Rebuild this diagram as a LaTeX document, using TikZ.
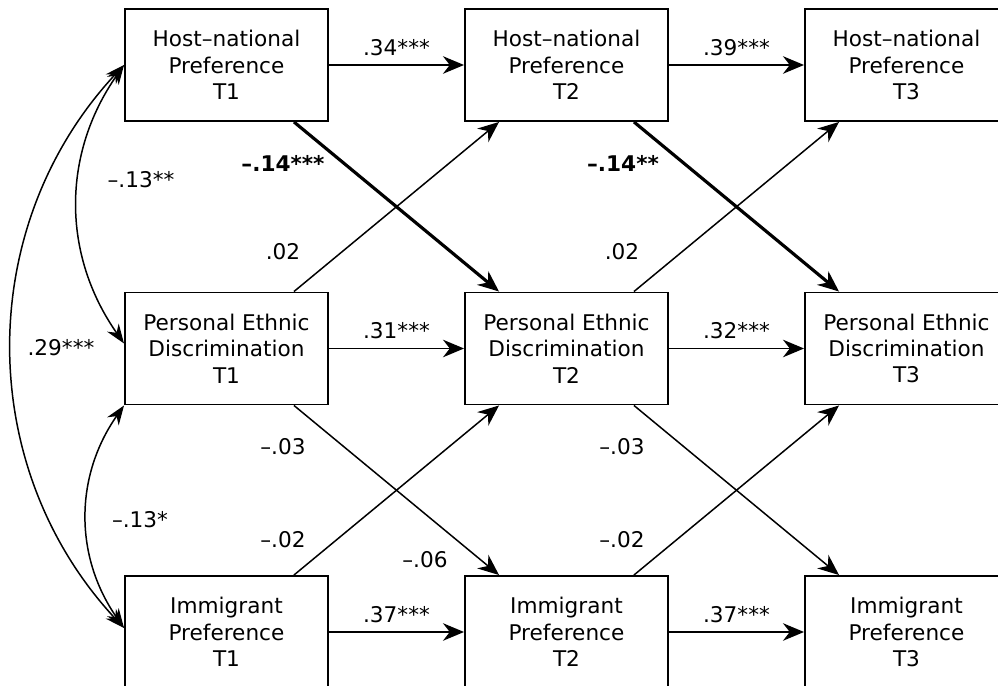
\documentclass[tikz,border=0pt]{standalone}
\usepackage{fontspec}
\setmainfont{DejaVu Sans}
\usetikzlibrary{arrows.meta,calc}

\tikzset{
  var/.style={draw, line width=1.1pt, align=center, minimum width=4.06cm, minimum height=2.24cm, inner sep=0pt, font=\fontsize{12.3}{15}\selectfont},
  reg/.style={-{Stealth[length=12pt, width=10pt]}, line width=0.85pt},
  strong/.style={reg, line width=1.8pt},
  cov/.style={{Stealth[length=11pt, width=8pt]}-{Stealth[length=11pt, width=8pt]}, line width=0.85pt},
  coef/.style={font=\fontsize{12.3}{15}\selectfont, inner sep=2pt},
}

\begin{document}
\begin{tikzpicture}
\useasboundingbox (0, 0) rectangle (19.96, -13.72);

\node[var] (h1) at (4.53, -1.30) {Host--national\\Preference\\T1};
\node[var] (h2) at (11.33, -1.30) {Host--national\\Preference\\T2};
\node[var] (h3) at (18.13, -1.30) {Host--national\\Preference\\T3};
\node[var] (p1) at (4.53, -6.97) {Personal Ethnic\\Discrimination\\T1};
\node[var] (p2) at (11.33, -6.97) {Personal Ethnic\\Discrimination\\T2};
\node[var] (p3) at (18.13, -6.97) {Personal Ethnic\\Discrimination\\T3};
\node[var] (i1) at (4.53, -12.64) {Immigrant\\Preference\\T1};
\node[var] (i2) at (11.33, -12.64) {Immigrant\\Preference\\T2};
\node[var] (i3) at (18.13, -12.64) {Immigrant\\Preference\\T3};

% stability paths
\draw[reg] (h1.east) -- (h2.west) node[coef, pos=0.5, above=3pt] {.34***};
\draw[reg] (h2.east) -- (h3.west) node[coef, pos=0.5, above=3pt] {.39***};
\draw[reg] (p1.east) -- (p2.west) node[coef, pos=0.5, above=3pt] {.31***};
\draw[reg] (p2.east) -- (p3.west) node[coef, pos=0.5, above=3pt] {.32***};
\draw[reg] (i1.east) -- (i2.west) node[coef, pos=0.5, above=3pt] {.37***};
\draw[reg] (i2.east) -- (i3.west) node[coef, pos=0.5, above=3pt] {.37***};

% cross-lagged paths
\draw[strong] ($(h1.south east)+(-0.7, 0)$) -- ($(p2.north west)+(0.7, 0)$);
\draw[strong] ($(h2.south east)+(-0.7, 0)$) -- ($(p3.north west)+(0.7, 0)$);
\draw[reg] ($(p1.north east)+(-0.7, 0)$) -- ($(h2.south west)+(0.7, 0)$);
\draw[reg] ($(p2.north east)+(-0.7, 0)$) -- ($(h3.south west)+(0.7, 0)$);
\draw[reg] ($(p1.south east)+(-0.7, 0)$) -- ($(i2.north west)+(0.7, 0)$);
\draw[reg] ($(p2.south east)+(-0.7, 0)$) -- ($(i3.north west)+(0.7, 0)$);
\draw[reg] ($(i1.north east)+(-0.7, 0)$) -- ($(p2.south west)+(0.7, 0)$);
\draw[reg] ($(i2.north east)+(-0.7, 0)$) -- ($(p3.south west)+(0.7, 0)$);

\node[coef, font=\fontsize{12.3}{15}\selectfont\bfseries] (b1) at (5.66, -3.26) {--.14***};
\node[coef, font=\fontsize{12.3}{15}\selectfont\bfseries] (b2) at (12.46, -3.26) {--.14**};
\node[coef] (c1) at (5.66, -5.04) {.02};
\node[coef] (c2) at (12.44, -5.04) {.02};
\node[coef] (c3) at (5.66, -8.94) {--.03};
\node[coef] (c4) at (12.44, -8.94) {--.03};
\node[coef] (c5) at (5.66, -10.80) {--.02};
\node[coef] (c6) at (12.44, -10.80) {--.02};
\node[coef] (c7) at (8.50, -11.20) {--.06};

% correlations at T1
\draw[cov] (h1.west) to[bend right=35] ($(p1.west)+(0, 0.1)$);
\draw[cov] (p1.south west) to[bend right=35] ($(i1.west)+(0, 0.08)$);
\draw[cov] (h1.west) to[bend right=43] ($(i1.west)+(0, 0.08)$);
\node[coef] (r1) at (2.82, -3.60) {--.13**};
\node[coef] (r2) at (2.80, -10.40) {--.13*};
\node[coef] (r3) at (1.22, -6.96) {.29***};

\end{tikzpicture}
\end{document}
